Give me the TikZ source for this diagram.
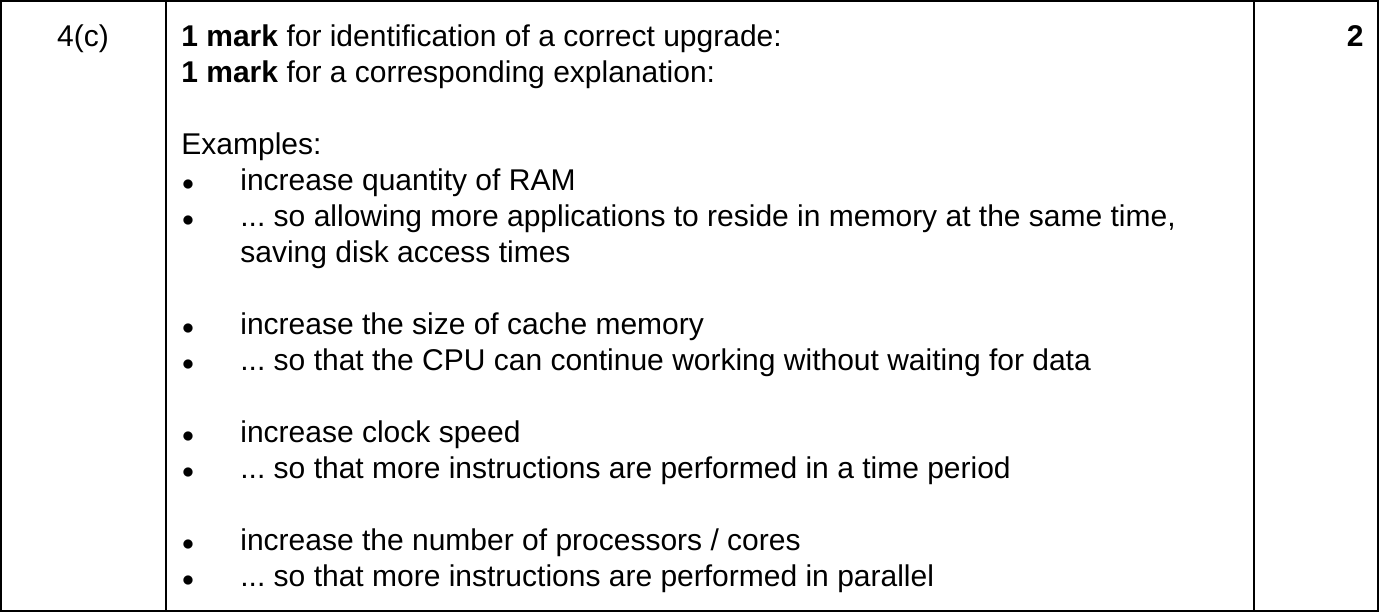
\documentclass[tikz,border=0pt]{standalone}
\usepackage{fontspec}
\setmainfont{Liberation Sans}
\tikzset{
  txt/.style={anchor=base west, inner sep=0pt, font=\fontsize{15}{18}\selectfont},
  bul/.style={anchor=base, inner sep=0pt, font=\fontsize{13}{18}\selectfont},
  rule/.style={line width=0.8pt, black}
}
\newcommand\dotsx{...\ }
\begin{document}
\begin{tikzpicture}[x=0.5pt,y=-0.5pt]
\useasboundingbox (0,0) rectangle (1379,612);
%----------------------------------------------------------------------------
% Table frame
\draw [rule] (1,1) rectangle (1378,611);
\draw [rule] (166,1) -- (166,611);
\draw [rule] (1254,1) -- (1254,611);
%----------------------------------------------------------------------------
% Cells
\node (qnum) [txt, anchor=base] at (83,46) {4(c)};
\node (marks) [txt, anchor=base east, font=\fontsize{15}{18}\selectfont\bfseries] at (1364,46) {2};
\node (markA) [txt] at (181,46) {\textbf{1 mark} for identification of a correct upgrade:};
\node (markB) [txt] at (181,82) {\textbf{1 mark} for a corresponding explanation:};
\node (examples) [txt] at (181,154) {Examples:};
%----------------------------------------------------------------------------
% Bullets
\foreach \y/\t in {190/{increase quantity of RAM},
  226/{\dotsx so allowing more applications to reside in memory at the same time,},
  334/{increase the size of cache memory},
  370/{\dotsx so that the CPU can continue working without waiting for data},
  442/{increase clock speed},
  478/{\dotsx so that more instructions are performed in a time period},
  550/{increase the number of processors / cores},
  586/{\dotsx so that more instructions are performed in parallel}}
{
  \node [bul] at (188,\y) {$\bullet$};
  \node [txt] at (240,\y) {\t};
}
\node (wrap) [txt] at (240,262) {saving disk access times};
\end{tikzpicture}
\end{document}
